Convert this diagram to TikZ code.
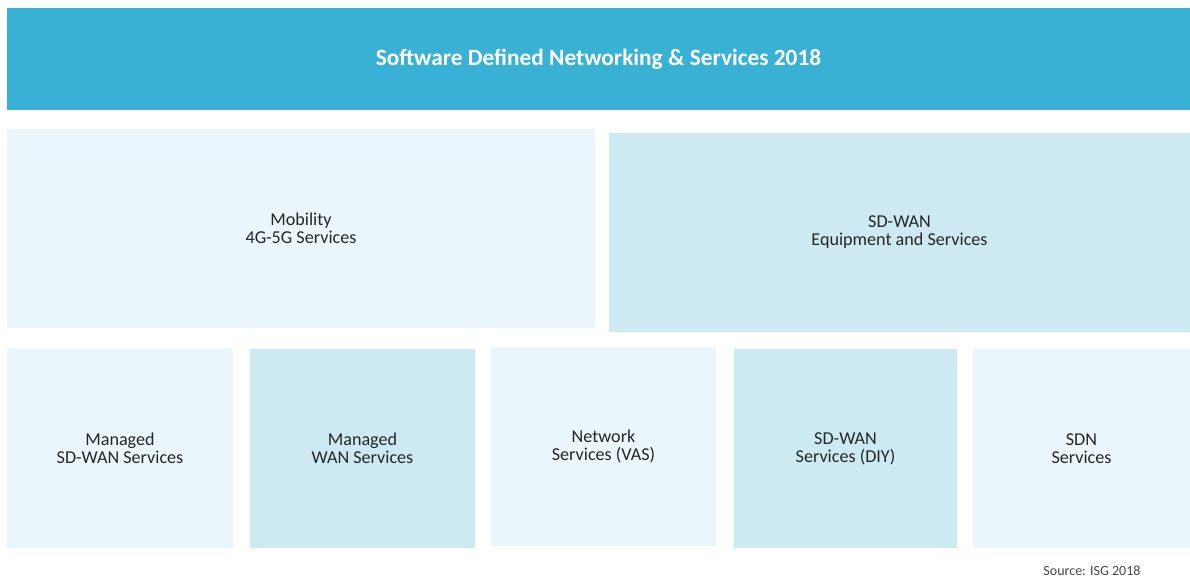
\documentclass[tikz,border=0pt]{standalone}
\usepackage{fontspec}
\setmainfont{Carlito}
\usepackage{tikz}
\usepackage{xcolor}
\usetikzlibrary{positioning}
\definecolor{ISG_Cyan}{HTML}{38B1D5}
\definecolor{ISG_Pale}{HTML}{EAF6FB}
\definecolor{ISG_Light}{HTML}{CDEAF3}
\definecolor{ISG_Text}{HTML}{262626}

\tikzset{
    tile/.style={inner sep=0, align=center, text=ISG_Text,
        font=\fontsize{13.6}{13.6}\selectfont},
    pale/.style={tile, fill=ISG_Pale},
    light/.style={tile, fill=ISG_Light}
}

\begin{document}
\begin{tikzpicture}[x=0.75pt, y=-0.75pt]
    \useasboundingbox (0,0) rectangle (1190,577);

    % Title bar
    \node[tile, fill=ISG_Cyan, text=white, minimum width=887.25pt, minimum height=76.5pt,
        font=\fontsize{17.5}{19}\selectfont\bfseries] (title) at (598.5,59)
        {Software Defined Networking \& Services 2018};

    % Upper row
    \node[pale, minimum width=441pt, minimum height=149.25pt] (mobility) at (301,228.5)
        {Mobility\\4G-5G Services};
    \node[light, minimum width=435.75pt, minimum height=149.25pt] (sdwan) at (899.5,232.5)
        {SD-WAN\\Equipment and Services};

    % Lower row
    \node[pale, minimum width=169.5pt, minimum height=149.25pt] (managedsdwan) at (120,448.5)
        {Managed\\SD-WAN Services};
    \node[light, minimum width=168.75pt, minimum height=149.25pt] (managedwan) at (362.5,448.5)
        {Managed\\WAN Services};
    \node[pale, minimum width=168.75pt, minimum height=149.25pt] (network) at (603.5,446.5)
        {Network\\Services (VAS)};
    \node[light, minimum width=167.25pt, minimum height=149.25pt] (diy) at (845.5,448.5)
        {SD-WAN\\Services (DIY)};
    \node[pale, minimum width=162.75pt, minimum height=149.25pt] (sdn) at (1081.5,448.5)
        {SDN\\Services};

    % Source
    \node[text=ISG_Text!85, font=\fontsize{10.5}{12}\selectfont] (source) at (1092,571)
        {Source: ISG 2018};

\end{tikzpicture}
\end{document}
